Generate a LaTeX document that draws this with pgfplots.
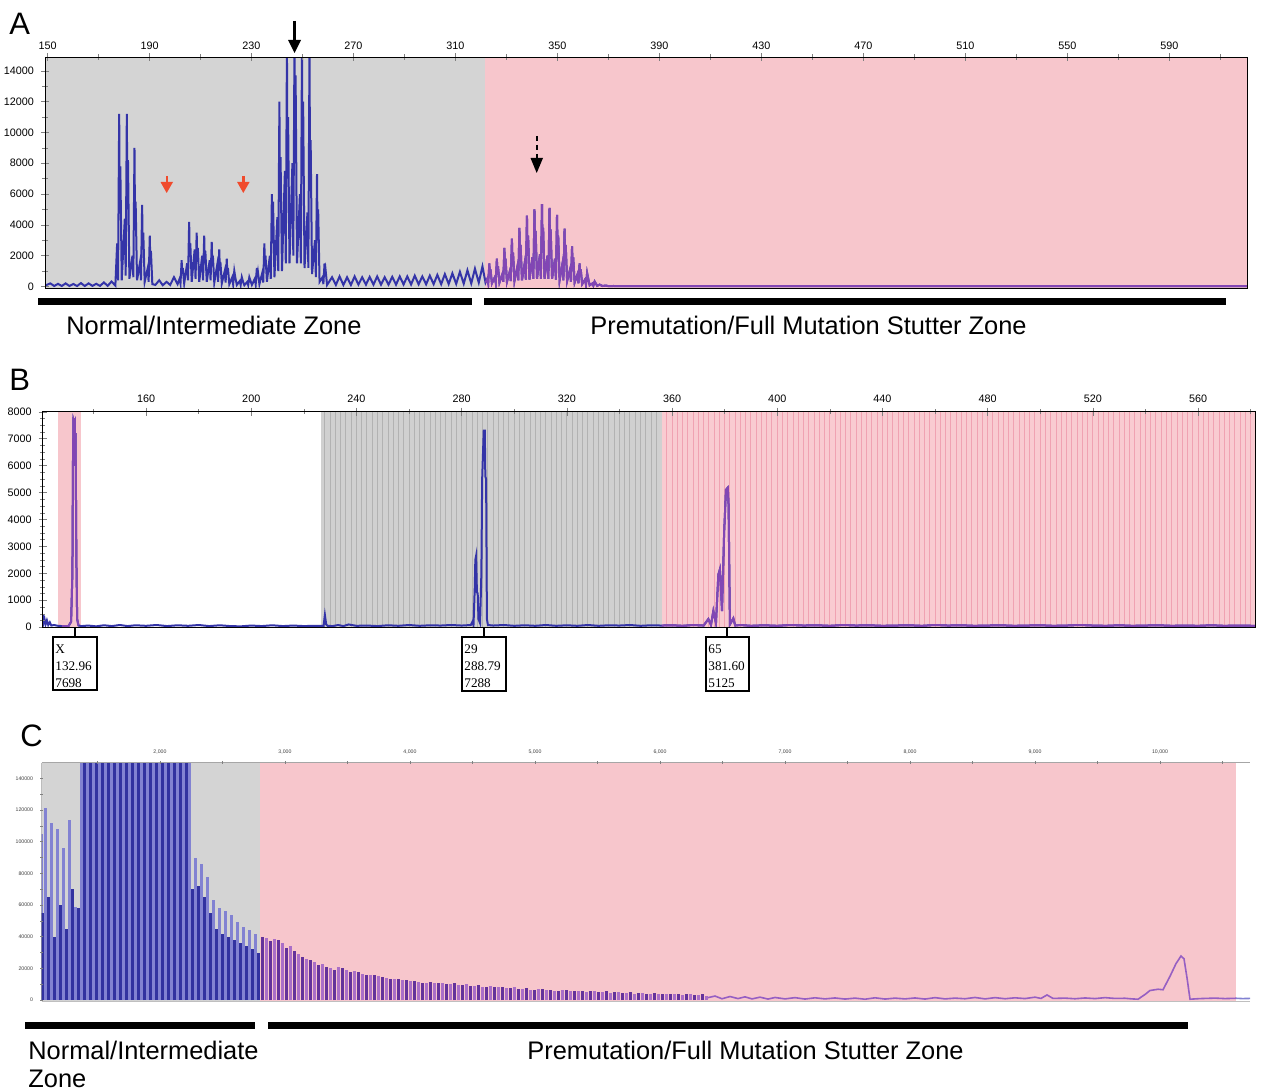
\documentclass[border=0pt]{standalone}
\usepackage{pgfplots}
\pgfplotsset{compat=1.18}
\usepackage{pgfplotstable}
\usepackage{fontspec}
\setmainfont{Liberation Sans}
\newfontfamily\boxfont{Liberation Serif}

\definecolor{bgGrey}{RGB}{212,212,212}
\definecolor{bgPink}{RGB}{247,198,204}
\definecolor{bGrey}{RGB}{208,208,208}
\definecolor{bGreyLine}{RGB}{178,178,178}
\definecolor{bPink}{RGB}{249,203,209}
\definecolor{bPinkLine}{RGB}{240,162,178}
\definecolor{trBlue}{RGB}{52,52,168}
\definecolor{trPurple}{RGB}{130,70,180}
\definecolor{cDark}{RGB}{50,50,160}
\definecolor{cLight}{RGB}{130,130,210}
\definecolor{cDarkP}{RGB}{100,50,155}
\definecolor{cLightP}{RGB}{170,110,200}
\definecolor{cTail}{RGB}{150,95,195}
\definecolor{redArrow}{RGB}{240,75,45}

% panel A: base pairs vs. signal
\pgfplotstableread[row sep=\\]{
x y\\
149.0 60\\ 151.1 200\\ 152.6 30\\ 154.1 170\\ 155.6 30\\ 157.1 200\\ 158.6 30\\ 160.1 160\\ 161.6 30\\
163.1 220\\ 164.6 30\\ 166.1 200\\ 167.6 40\\ 169.1 170\\ 170.6 40\\ 172.1 260\\ 173.6 40\\ 175.1 320\\ 176.6 60\\
177.3 2800\\ 177.65 400\\ 178.1 11200\\ 178.32 5000\\ 178.55 7800\\ 179.1 400\\
180.3 4400\\ 180.65 700\\ 181.1 11200\\ 181.32 5000\\ 181.55 8200\\ 182.1 500\\
183.3 2000\\ 183.65 600\\ 184.1 9000\\ 184.32 4000\\ 184.55 5500\\ 185.1 400\\
186.3 1600\\ 186.65 400\\ 187.1 5300\\ 187.32 2400\\ 187.55 3500\\ 188.1 300\\
189.3 1200\\ 189.65 300\\ 190.1 3300\\ 190.32 1500\\ 190.55 2300\\ 191.1 150\\
192.3 100\\ 193.8 400\\ 195.2 80\\ 196.7 300\\ 198.1 100\\ 199.6 600\\ 201.0 150\\
201.8 500\\ 202.15 200\\ 202.6 1700\\ 202.82 800\\ 203.05 1200\\ 203.6 200\\
204.75 1500\\ 205.1 400\\ 205.55 4200\\ 205.77 1900\\ 206.0 2800\\ 206.55 300\\
207.7 2400\\ 208.05 500\\ 208.5 3500\\ 208.72 1600\\ 208.95 2500\\ 209.5 300\\
210.65 2000\\ 211.0 400\\ 211.45 3300\\ 211.67 1500\\ 211.9 2300\\ 212.45 300\\
213.6 1700\\ 213.95 400\\ 214.4 2900\\ 214.62 1300\\ 214.85 2000\\ 215.4 250\\
216.55 1400\\ 216.9 300\\ 217.35 2400\\ 217.57 1100\\ 217.8 1600\\ 218.35 200\\
219.5 1000\\ 219.85 250\\ 220.3 1800\\ 220.52 800\\ 220.75 1200\\ 221.3 150\\
222.45 600\\ 222.8 150\\ 223.25 1000\\ 223.75 500\\ 224.25 100\\
225.4 350\\ 225.75 100\\ 226.2 600\\ 226.7 300\\ 227.2 80\\
228.35 300\\ 228.7 100\\ 229.15 600\\ 229.65 350\\ 230.15 100\\
231.3 500\\ 231.65 150\\ 232.1 1200\\ 232.32 600\\ 232.55 900\\ 233.1 150\\
234.25 900\\ 234.6 250\\ 235.05 2800\\ 235.27 1300\\ 235.5 2000\\ 236.05 300\\
237.2 2000\\ 237.55 500\\ 238.0 6000\\ 238.22 2800\\ 238.45 5500\\ 239.0 600\\
240.15 4500\\ 240.5 1000\\ 240.95 12000\\ 241.17 5500\\ 241.4 8400\\ 241.95 1000\\
243.1 7500\\ 243.45 1500\\ 243.9 15500\\ 244.12 7000\\ 244.35 11000\\ 244.9 1500\\
246.05 8000\\ 246.4 2000\\ 246.85 15500\\ 247.07 8000\\ 247.3 13700\\ 247.85 1500\\
249.0 6000\\ 249.35 1500\\ 249.8 15500\\ 250.02 8000\\ 250.25 12000\\ 250.8 1200\\
251.95 4800\\ 252.3 1200\\ 252.75 15500\\ 252.97 7000\\ 253.2 9500\\ 253.75 800\\
254.9 3000\\ 255.25 600\\ 255.7 7300\\ 255.92 3000\\ 256.15 5000\\ 256.7 300\\
257.85 600\\ 258.2 150\\ 258.65 1500\\ 258.87 700\\ 259.1 1000\\ 259.65 100\\
261.6 600\\ 263.1 100\\ 264.55 650\\ 266.05 100\\ 267.5 600\\ 269.0 100\\ 270.45 650\\ 271.95 120\\
273.4 600\\ 274.9 120\\ 276.35 620\\ 277.85 120\\ 279.3 650\\ 280.8 120\\ 282.25 600\\ 283.75 120\\
285.2 620\\ 286.7 120\\ 288.15 650\\ 289.65 130\\ 291.1 650\\ 292.6 130\\ 294.05 700\\ 295.55 140\\
297.0 650\\ 298.5 140\\ 299.95 700\\ 301.45 150\\ 302.9 750\\ 304.4 150\\ 305.85 800\\ 307.35 160\\
308.8 850\\ 310.3 170\\ 311.75 950\\ 313.25 180\\ 314.7 1050\\ 316.2 200\\ 317.65 1150\\ 319.15 250\\
320.6 1300\\ 321.8 250\\
322.5 500\\ 322.85 200\\ 323.3 1500\\ 323.52 700\\ 323.75 1100\\ 324.3 200\\
325.45 600\\ 325.8 250\\ 326.25 1800\\ 326.47 800\\ 326.7 1300\\ 327.25 250\\
328.4 800\\ 328.75 300\\ 329.2 2500\\ 329.42 1100\\ 329.65 1800\\ 330.2 300\\
331.35 1000\\ 331.7 350\\ 332.15 3100\\ 332.37 1400\\ 332.6 2200\\ 333.15 350\\
334.3 1300\\ 334.65 400\\ 335.1 3800\\ 335.32 1700\\ 335.55 2700\\ 336.1 400\\
337.25 1600\\ 337.6 450\\ 338.05 4600\\ 338.27 2100\\ 338.5 3300\\ 339.05 450\\
340.2 1900\\ 340.55 500\\ 341.0 5000\\ 341.22 2300\\ 341.45 3600\\ 342.0 500\\
343.15 2100\\ 343.5 500\\ 343.95 5350\\ 344.17 2400\\ 344.4 3800\\ 344.95 500\\
346.1 2000\\ 346.45 500\\ 346.9 5100\\ 347.12 2300\\ 347.35 3700\\ 347.9 500\\
349.05 1800\\ 349.4 450\\ 349.85 4650\\ 350.07 2100\\ 350.3 3300\\ 350.85 400\\
352.0 1500\\ 352.35 400\\ 352.8 3750\\ 353.02 1700\\ 353.25 2700\\ 353.8 350\\
354.95 1100\\ 355.3 300\\ 355.75 2600\\ 355.97 1200\\ 356.2 1900\\ 356.75 250\\
357.9 800\\ 358.25 200\\ 358.7 1500\\ 358.92 700\\ 359.15 1100\\ 359.7 150\\
360.85 450\\ 361.2 120\\ 361.65 870\\ 362.15 450\\ 362.65 80\\
363.8 200\\ 364.1 60\\ 364.6 320\\ 365.6 40\\ 366.6 120\\ 367.6 30\\ 369 60\\ 370 20\\ 372 30\\
400 20\\ 500 25\\ 620.5 20\\
}\tabA

% panel B
\pgfplotstableread[row sep=\\]{
x y\\
120.75 450\\ 121.0 150\\ 121.4 300\\ 121.8 100\\ 122.3 250\\ 122.8 80\\ 123.4 180\\ 124.0 60\\ 125.0 80\\
126.5 50\\ 128.0 40\\ 130.5 40\\ 131.5 200\\ 132.0 2000\\ 132.2 6000\\ 132.4 7700\\ 132.7 7600\\ 132.9 7650\\
133.05 6000\\ 133.2 7200\\ 133.5 2600\\ 133.8 300\\ 134.3 60\\ 135.5 40\\
138 60\\ 141 30\\ 144 70\\ 147 40\\ 150 80\\ 153 40\\ 156 70\\ 160 50\\ 164 80\\ 168 40\\ 172 70\\ 176 50\\
180 80\\ 184 40\\ 188 70\\ 192 40\\ 196 30\\ 200 60\\ 204 40\\ 208 70\\ 212 40\\ 216 60\\ 220 40\\ 224 50\\
227.5 50\\ 228.0 450\\ 228.5 100\\ 229 50\\ 231 40\\ 233 80\\ 235 40\\ 237 100\\ 240 50\\ 244 60\\ 248 40\\
252 70\\ 256 50\\ 260 80\\ 264 50\\ 268 70\\ 272 60\\ 276 80\\ 280 60\\ 283.5 80\\ 284.1 200\\ 284.5 80\\
285.0 1500\\ 285.2 2500\\ 285.5 2650\\ 285.8 1300\\ 286.1 1250\\ 286.4 300\\ 287.0 150\\ 287.5 2000\\
287.8 5500\\ 288.1 6400\\ 288.4 7300\\ 288.8 7300\\ 289.0 5600\\ 289.3 5500\\ 289.6 300\\ 290.0 80\\
292 60\\ 296 80\\ 300 50\\ 304 70\\ 308 50\\ 312 80\\ 316 50\\ 320 70\\ 324 50\\ 328 80\\ 332 50\\ 336 70\\
340 60\\ 344 80\\ 348 50\\ 352 70\\ 356 60\\ 360 70\\ 364 50\\ 368 80\\ 372 60\\ 373.8 300\\ 374.8 80\\
375.7 600\\ 376.7 150\\ 377.6 1950\\ 378.2 2150\\ 379.0 600\\ 379.8 3500\\ 380.5 5100\\ 381.2 5180\\
381.5 4500\\ 382.0 100\\ 383.3 330\\ 384.0 60\\ 386 80\\ 390 50\\ 395 70\\ 400 50\\ 405 80\\ 410 60\\
415 70\\ 420 50\\ 425 80\\ 430 60\\ 435 70\\ 440 50\\ 445 60\\ 450 70\\ 455 50\\ 460 80\\ 465 60\\ 470 70\\
475 50\\ 480 60\\ 485 70\\ 490 50\\ 495 60\\ 500 70\\ 505 50\\ 510 60\\ 515 80\\ 520 60\\ 525 50\\ 530 70\\
535 50\\ 540 60\\ 545 70\\ 550 50\\ 555 60\\ 560 50\\ 565 70\\ 570 50\\ 575 60\\ 581.7 50\\
}\tabB

% panel C: scan vs. signal, dark and light spikes
\pgfplotstableread[row sep=\\]{
x y\\
1060 55000\\ 1108 65000\\ 1156 40000\\ 1204 60000\\ 1252 45000\\ 1300 70000\\ 1348 58000\\
1396 200000\\ 1444 200000\\ 1492 200000\\ 1540 200000\\ 1588 200000\\ 1636 200000\\ 1684 200000\\
1732 200000\\ 1780 200000\\ 1828 200000\\ 1876 200000\\ 1924 200000\\ 1972 200000\\ 2020 200000\\
2068 200000\\ 2116 200000\\ 2164 200000\\ 2212 200000\\
2260 70000\\ 2308 72000\\ 2356 65000\\ 2404 55000\\ 2452 45000\\ 2500 42000\\ 2548 40000\\
2596 38000\\ 2644 36000\\ 2692 34000\\ 2740 32000\\ 2788 30000\\
}\tabCgD
\pgfplotstableread[row sep=\\]{
x y\\
1058 105000\\ 1084 121000\\ 1132 112000\\ 1180 108000\\ 1228 96000\\ 1276 114000\\ 1324 59000\\
1372 200000\\ 1420 200000\\ 1468 200000\\ 1516 200000\\ 1564 200000\\ 1612 200000\\ 1660 200000\\
1708 200000\\ 1756 200000\\ 1804 200000\\ 1852 200000\\ 1900 200000\\ 1948 200000\\ 1996 200000\\
2044 200000\\ 2092 200000\\ 2140 200000\\ 2188 200000\\ 2236 200000\\
2284 90000\\ 2332 86000\\ 2380 78000\\ 2428 63000\\ 2476 58000\\ 2524 56000\\ 2572 54000\\
2620 49000\\ 2668 46000\\ 2716 44000\\ 2764 42000\\
}\tabCgL
\pgfplotstableread[row sep=\\]{
x y\\
2820 40000\\ 2884 37000\\ 2948 38000\\ 3012 33000\\ 3076 31000\\ 3140 27000\\ 3204 25000\\ 3268 22000\\
3332 21000\\ 3396 19000\\ 3460 20000\\ 3524 18000\\ 3588 17500\\ 3652 16000\\ 3716 15500\\ 3780 14500\\
3844 13500\\ 3908 13000\\ 3972 12500\\ 4036 12000\\ 4100 11000\\ 4164 11500\\ 4228 10500\\ 4292 10000\\
4356 10500\\ 4420 9500\\ 4484 9000\\ 4548 9500\\ 4612 8500\\ 4676 8000\\ 4740 8500\\ 4804 7500\\
4868 7000\\ 4932 7500\\ 4996 6500\\ 5060 7000\\ 5124 6500\\ 5188 6000\\ 5252 6500\\ 5316 5500\\
5380 6000\\ 5444 5500\\ 5508 5000\\ 5572 5500\\ 5636 5000\\ 5700 4500\\ 5764 5000\\ 5828 4500\\
5892 4000\\ 5956 4500\\ 6020 4000\\ 6084 3500\\ 6148 4000\\ 6212 3500\\ 6276 3000\\ 6340 3500\\
}\tabCpD
\pgfplotstableread[row sep=\\]{
x y\\
2852 39000\\ 2916 38500\\ 2980 36000\\ 3044 34000\\ 3108 29000\\ 3172 26000\\ 3236 24000\\ 3300 22500\\
3364 20000\\ 3428 21000\\ 3492 19000\\ 3556 18500\\ 3620 16500\\ 3684 16000\\ 3748 15000\\ 3812 14000\\
3876 13500\\ 3940 12500\\ 4004 12000\\ 4068 11500\\ 4132 11000\\ 4196 10500\\ 4260 11000\\ 4324 10000\\
4388 9500\\ 4452 10000\\ 4516 9000\\ 4580 8500\\ 4644 9000\\ 4708 8000\\ 4772 7500\\ 4836 8000\\
4900 7000\\ 4964 6500\\ 5028 7000\\ 5092 6500\\ 5156 6000\\ 5220 6500\\ 5284 5500\\ 5348 6000\\
5412 5000\\ 5476 5500\\ 5540 5000\\ 5604 4500\\ 5668 5000\\ 5732 4500\\ 5796 4000\\ 5860 4500\\
5924 4000\\ 5988 3500\\ 6052 4000\\ 6116 3500\\ 6180 3000\\ 6244 3500\\ 6308 3000\\ 6372 2500\\
}\tabCpL
\pgfplotstableread[row sep=\\]{
x y\\
6384 1500\\ 6440 2500\\ 6496 800\\ 6560 2200\\ 6624 900\\ 6680 2000\\ 6736 700\\ 6800 1800\\ 6864 600\\
6920 1600\\ 7000 700\\ 7080 1500\\ 7160 600\\ 7240 1400\\ 7320 700\\ 7400 1300\\ 7480 600\\ 7560 1200\\
7640 500\\ 7720 1400\\ 7800 600\\ 7880 1200\\ 7960 700\\ 8040 1300\\ 8120 600\\ 8200 1500\\ 8280 700\\
8360 1200\\ 8440 800\\ 8520 1600\\ 8600 700\\ 8680 1500\\ 8760 800\\ 8840 1400\\ 8920 900\\ 9000 1800\\
9048 1000\\ 9096 3200\\ 9144 1000\\ 9240 1200\\ 9320 800\\ 9400 1300\\ 9480 900\\ 9560 1500\\ 9640 1000\\
9720 1100\\ 9776 700\\ 9824 500\\ 9880 3500\\ 9920 6000\\ 9984 6800\\ 10024 6500\\ 10080 15000\\
10128 23000\\ 10168 27800\\ 10192 26000\\ 10216 14000\\ 10240 500\\ 10320 900\\ 10440 1200\\
10520 900\\ 10608 1100\\
}\tabCtail

\pgfplotsset{
  trace/.style={scale only axis, axis on top, scaled ticks=false, tick align=center,
    /pgf/number format/assume math mode=true,
    /pgf/number format/fixed, /pgf/number format/precision=0},
}

\begin{document}
\begin{tikzpicture}
\useasboundingbox (0,0) rectangle (631pt,-545.5pt);

% ---------- A ----------
\begin{axis}[trace,
  at={(22.5pt,-144pt)}, anchor=south west, width=601pt, height=115.5pt,
  xmin=149, xmax=620.5, ymin=-100, ymax=14900,
  xtick pos=right, xticklabel pos=right, ytick pos=left,
  xtick={150,190,...,590}, minor xtick={170,210,...,610},
  ytick={0,2000,...,14000}, minor ytick={1000,3000,...,13000},
  major tick length=4pt, minor tick length=3pt,
  ticklabel style={font=\fontsize{5.4}{6}\selectfont, /pgf/number format/1000 sep={}},
  xticklabel style={yshift=-2pt},
  axis line style={line width=0.5pt},
]
\fill[bgGrey] (axis cs:149,-100) rectangle (axis cs:321.6,14900);
\fill[bgPink] (axis cs:321.6,-100) rectangle (axis cs:620.5,14900);
\addplot[trBlue, line width=1pt] table {\tabA};
\addplot[trPurple, line width=1pt, restrict x to domain=321.6:621] table {\tabA};
\end{axis}

% ---------- B ----------
\begin{axis}[trace,
  at={(21.35pt,-313.85pt)}, anchor=south west, width=606.2pt, height=108pt,
  xmin=120.7, xmax=581.7, ymin=-20, ymax=8000,
  xtick pos=right, xticklabel pos=right, ytick pos=left,
  xtick={160,200,...,560}, minor xtick={140,180,...,580},
  ytick={0,1000,...,8000}, minor ytick={250,500,...,7750},
  major tick length=4pt, minor tick length=2.5pt,
  ticklabel style={font=\fontsize{5.4}{6}\selectfont, /pgf/number format/1000 sep={}},
  xticklabel style={yshift=-1pt},
  axis line style={line width=0.5pt},
]
\fill[bgPink] (axis cs:126.6,-20) rectangle (axis cs:135.2,8000);
\fill[bGrey] (axis cs:226.4,-20) rectangle (axis cs:356,8000);
\fill[bPink] (axis cs:356,-20) rectangle (axis cs:581.7,8000);
\pgfplotsinvokeforeach{228,230,...,354}{\draw[bGreyLine, line width=0.5pt] (axis cs:#1,-20) -- (axis cs:#1,8000);}
\pgfplotsinvokeforeach{358,360,...,580}{\draw[bPinkLine, line width=0.5pt] (axis cs:#1,-20) -- (axis cs:#1,8000);}
\addplot[trBlue, line width=1pt] table {\tabB};
\addplot[trPurple, line width=1pt, restrict x to domain=126.6:135.2] table {\tabB};
\addplot[trPurple, line width=1pt, restrict x to domain=356:582] table {\tabB};
\end{axis}

% ---------- C ----------
\begin{axis}[trace,
  at={(20.85pt,-500.5pt)}, anchor=south west, width=604.15pt, height=119.25pt,
  xmin=1053.6, xmax=10720, ymin=-630, ymax=150000,
  xtick pos=right, xticklabel pos=right, ytick pos=left,
  xtick={2000,3000,...,10000}, minor xtick={1500,2500,...,10500},
  ytick={0,20000,...,140000}, minor ytick={10000,30000,...,130000},
  major tick length=1.6pt, minor tick length=1.2pt,
  tick style={gray, line width=0.3pt},
  ticklabel style={font=\fontsize{2.6}{3}\selectfont, text=darkgray},
  xticklabel style={/pgf/number format/1000 sep={,}},
  yticklabel style={/pgf/number format/1000 sep={}},
  axis line style={draw=none},
]
\fill[bgGrey] (axis cs:1053.6,-630) rectangle (axis cs:2800,150000);
\fill[bgPink] (axis cs:2800,-630) rectangle (axis cs:10608,150000);
\addplot[ycomb, cLight, line width=1.1pt] table {\tabCgL};
\addplot[ycomb, cDark, line width=1.1pt] table {\tabCgD};
\addplot[ycomb, cLightP, line width=1.3pt] table {\tabCpL};
\addplot[ycomb, cDarkP, line width=1.3pt] table {\tabCpD};
\addplot[cTail, line width=0.8pt] table {\tabCtail};
\addplot[cLight, line width=0.8pt] coordinates {(10608,1100) (10660,900) (10720,1000)};
\draw[gray!70, line width=0.4pt] (rel axis cs:0,1) -- (rel axis cs:1,1);
\draw[gray!50, line width=0.4pt] (rel axis cs:0,0) -- (rel axis cs:1,0);
\draw[darkgray, line width=0.7pt] (rel axis cs:0,0) -- (rel axis cs:0,1);
\end{axis}

% ---------- annotations (pixel grid of the figure) ----------
\begin{scope}[x=0.5pt,y=-0.5pt]
\node[anchor=base west, inner sep=0, font=\fontsize{15.5}{18}\selectfont] at (9,35) {A};
\node[anchor=base west, inner sep=0, font=\fontsize{15.5}{18}\selectfont] at (9,390) {B};
\node[anchor=base west, inner sep=0, font=\fontsize{15.5}{18}\selectfont] at (20,746) {C};

% arrows in A
\draw[line width=1.2pt] (294.5,21) -- (294.5,42);
\fill (288,40) -- (301,40) -- (294.5,53) -- cycle;
\draw[line width=1.1pt, dash pattern=on 2.5pt off 2pt] (536.7,136) -- (536.7,160);
\fill (530.5,158) -- (543,158) -- (536.7,173) -- cycle;
\draw[redArrow, line width=1.2pt] (166.7,176) -- (166.7,184);
\fill[redArrow] (160.5,182) -- (173,182) -- (166.7,193) -- cycle;
\draw[redArrow, line width=1.2pt] (243.3,176) -- (243.3,184);
\fill[redArrow] (237.1,182) -- (249.6,182) -- (243.3,193) -- cycle;

% zone bars and labels
\fill (38,298) rectangle (472,304.5);
\fill (484,298) rectangle (1226,304.5);
\node[anchor=base west, inner sep=0, font=\fontsize{12.7}{15}\selectfont] at (66,334) {Normal/Intermediate Zone};
\node[anchor=base west, inner sep=0, font=\fontsize{12.7}{15}\selectfont] at (590,334) {Premutation/Full Mutation Stutter Zone};
\fill (25,1021.5) rectangle (255,1028.5);
\fill (268,1021.5) rectangle (1188,1028.5);
\node[anchor=base west, inner sep=0, font=\fontsize{12.7}{15}\selectfont] at (28,1059) {Normal/Intermediate};
\node[anchor=base west, inner sep=0, font=\fontsize{12.7}{15}\selectfont] at (28,1087) {Zone};
\node[anchor=base west, inner sep=0, font=\fontsize{12.7}{15}\selectfont] at (527,1059) {Premutation/Full Mutation Stutter Zone};

% peak boxes in B
\draw[line width=0.6pt] (75,628) -- (75,637);
\draw[line width=0.6pt] (53,637) rectangle (97,690);
\node[anchor=north west, inner sep=0, font=\boxfont\fontsize{6.6}{8.5}\selectfont] at (55,641)
  {\begin{tabular}{@{}l@{}}X\\132.96\\7698\end{tabular}};
\draw[line width=0.6pt] (484,628) -- (484,637);
\draw[line width=0.6pt] (462,637) rectangle (506,691);
\node[anchor=north west, inner sep=0, font=\boxfont\fontsize{6.6}{8.5}\selectfont] at (464,641)
  {\begin{tabular}{@{}l@{}}29\\288.79\\7288\end{tabular}};
\draw[line width=0.6pt] (727,628) -- (727,637);
\draw[line width=0.6pt] (706,637) rectangle (749,691);
\node[anchor=north west, inner sep=0, font=\boxfont\fontsize{6.6}{8.5}\selectfont] at (708,641)
  {\begin{tabular}{@{}l@{}}65\\381.60\\5125\end{tabular}};
\end{scope}
\end{tikzpicture}
\end{document}
